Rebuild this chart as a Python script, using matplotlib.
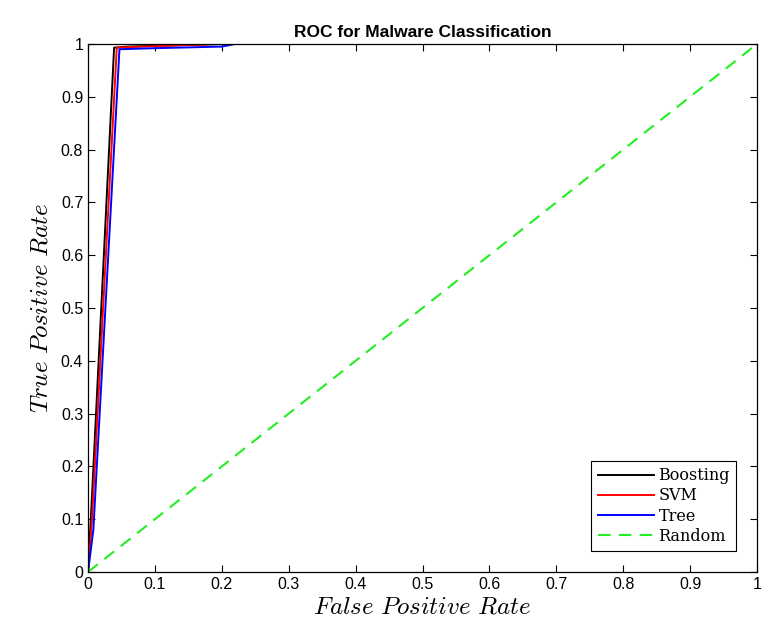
import numpy as np
import matplotlib.pyplot as plt

plt.rcParams['mathtext.fontset'] = 'cm'

# ROC points
fpr_boost = [0, 0.005, 0.039, 0.06, 0.2, 0.4, 1.0]
tpr_boost = [0, 0.12, 0.993, 0.995, 1.0, 1.0, 1.0]
fpr_svm = [0, 0.006, 0.043, 0.08, 0.2, 1.0]
tpr_svm = [0, 0.1, 0.993, 0.995, 1.0, 1.0]
fpr_tree = [0, 0.008, 0.047, 0.1, 0.2, 0.22, 1.0]
tpr_tree = [0, 0.08, 0.99, 0.992, 0.995, 1.0, 1.0]
rand_x = [0, 1]
rand_y = [0, 1]

fig = plt.figure(figsize=(7.62, 6.37), dpi=100)
ax = fig.add_axes([0.1155, 0.102, 0.878, 0.829])

ax.plot(fpr_boost, tpr_boost, color='black', lw=1.4, label='Boosting')
ax.plot(fpr_svm, tpr_svm, color='red', lw=1.4, label='SVM')
ax.plot(fpr_tree, tpr_tree, color='blue', lw=1.4, label='Tree')
ax.plot(rand_x, rand_y, color='#22ee22', lw=1.5, ls=(0, (6, 4)), label='Random')

ax.set_xlim(0, 1)
ax.set_ylim(0, 1)
ticks = np.round(np.arange(0, 1.01, 0.1), 1)
ax.set_xticks(ticks)
ax.set_yticks(ticks)
lbls = ['0'] + [f'{t:g}' for t in ticks[1:-1]] + ['1']
ax.set_xticklabels(lbls, fontfamily='Liberation Sans', fontsize=11.5)
ax.set_yticklabels(lbls, fontfamily='Liberation Sans', fontsize=11.5)
ax.tick_params(direction='in', top=True, right=True, length=5, width=0.8)
for s in ax.spines.values():
    s.set_linewidth(0.9)

ax.set_xlabel(r'$False\ Positive\ Rate$', fontsize=18, labelpad=2)
ax.set_ylabel(r'$True\ Positive\ Rate$', fontsize=18, labelpad=6)
ax.set_title('ROC for Malware Classification', fontsize=12.5, fontweight='bold',
             fontfamily='Liberation Sans', pad=5)

leg = ax.legend(loc='lower right', prop={'family': 'DejaVu Serif', 'size': 11.5},
                fancybox=False, framealpha=1, edgecolor='black', handlelength=3.5,
                handletextpad=0.3, labelspacing=0.2, borderaxespad=1.3)
leg.get_frame().set_linewidth(0.8)

fig.savefig('out.png', dpi=100)
